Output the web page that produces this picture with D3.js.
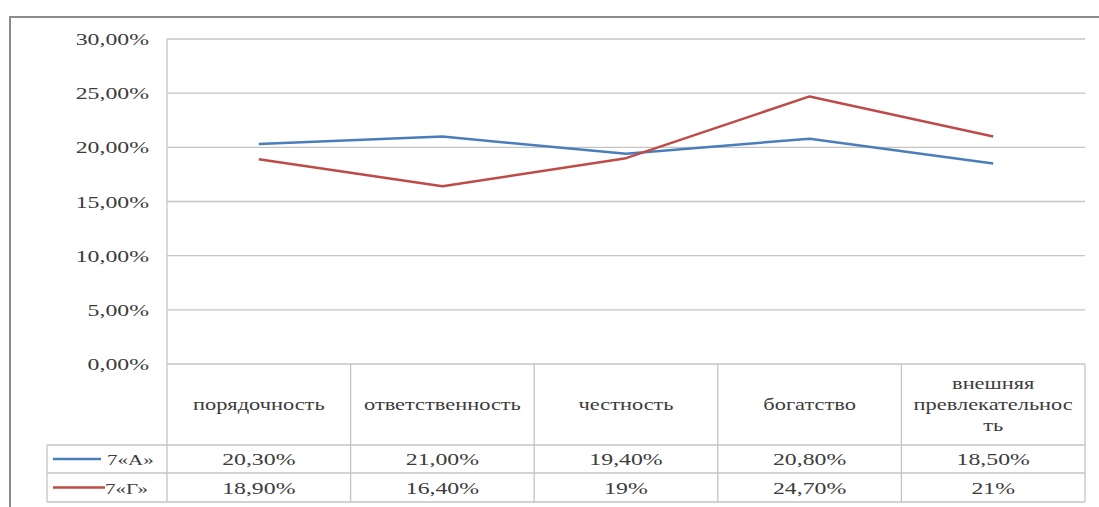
<!DOCTYPE html>
<html><head><meta charset="utf-8">
<script src="https://cdn.jsdelivr.net/npm/d3@7"></script>
<style>body{margin:0;background:#fff}svg{display:block}svg text{font-family:"Liberation Serif","Times New Roman",serif}</style>
</head><body>
<script>
const categories = ["порядочность","ответственность","честность","богатство","внешняя превлекательность"];
const categoryLines = [["порядочность"],["ответственность"],["честность"],["богатство"],["внешняя","превлекательнос","ть"]];
const seriesNames = ["7«А»","7«Г»"];
const seriesA = [0.203,0.210,0.194,0.208,0.185];
const seriesG = [0.189,0.164,0.19,0.247,0.21];
const labelsA = ["20,30%","21,00%","19,40%","20,80%","18,50%"];
const labelsG = ["18,90%","16,40%","19%","24,70%","21%"];
const yTicks = [0,0.05,0.10,0.15,0.20,0.25,0.30];
const colors = ["#4A7EBB","#BE4B48"];

(function(){
const W=1099,H=507;
const svg=d3.select("body").append("svg").attr("width",W).attr("height",H);
const SX=1.4;
const pLeft=167,pRight=1085,pTop=39,pBottom=364;
const x=d3.scaleBand().domain(categories).range([pLeft,pRight]).padding(0);
const y=d3.scaleLinear().domain([0,0.30]).range([pBottom,pTop]);
const fmt=v=>d3.format(".2f")(v*100).replace(".",",")+"%";
const txt=(px,py,s,anchor,size)=>svg.append("text")
  .attr("transform",`translate(${px},${py}) scale(${SX},1)`)
  .attr("text-anchor",anchor).attr("font-size",size)
  .attr("fill","#3c3c3c").text(s);

// outer frame
svg.append("path").attr("d",`M10,${H} L10,17 L${W},17`).attr("fill","none").attr("stroke","#8c8c8c").attr("stroke-width",2);

// gridlines
svg.append("g").selectAll("line").data(yTicks).join("line")
 .attr("x1",pLeft).attr("x2",pRight).attr("y1",d=>y(d)).attr("y2",d=>y(d))
 .attr("stroke","#c4c4c4").attr("stroke-width",1.3);
svg.append("line").attr("x1",pLeft).attr("x2",pLeft).attr("y1",pTop).attr("y2",pBottom).attr("stroke","#c4c4c4").attr("stroke-width",1.3);

// y tick labels
yTicks.forEach(t=>txt(149,y(t)+6,fmt(t),"end",17));

// table
const rowH=[pBottom,445,473,502];
const tg=svg.append("g").attr("stroke","#c4c4c4").attr("stroke-width",1.3);
const cols=categories.map(c=>x(c)).concat([pRight]);
cols.forEach(cx=>{
  tg.append("line").attr("x1",cx).attr("x2",cx).attr("y1",pBottom).attr("y2",rowH[3]);
});
tg.append("line").attr("x1",47).attr("x2",47).attr("y1",rowH[1]).attr("y2",rowH[3]);
[1,2,3].forEach(k=>tg.append("line").attr("x1",47).attr("x2",pRight).attr("y1",rowH[k]).attr("y2",rowH[k]));

// category labels
categories.forEach((c,i)=>{
  const lines=categoryLines[i];
  const cx=x(c)+x.bandwidth()/2;
  const lh=21;
  const y0=(pBottom+rowH[1])/2 - (lines.length-1)*lh/2 + 5;
  lines.forEach((l,j)=>txt(cx,y0+j*lh,l,"middle",16));
});

// data rows
[labelsA,labelsG].forEach((labs,r)=>{
  const ry=(rowH[r+1]+rowH[r+2])/2+6;
  categories.forEach((c,i)=>txt(x(c)+x.bandwidth()/2,ry,labs[i],"middle",17));
  svg.append("line").attr("x1",53).attr("x2",r===0?101:105).attr("y1",ry-6).attr("y2",ry-6).attr("stroke",colors[r]).attr("stroke-width",2.5);
  txt(r===0?107:105,ry,seriesNames[r],"start",15);
});

// lines
const line=d3.line().x((d,i)=>x(categories[i])+x.bandwidth()/2).y(d=>y(d));
[seriesA,seriesG].forEach((s,r)=>{
  svg.append("path").datum(s).attr("d",line).attr("fill","none").attr("stroke",colors[r]).attr("stroke-width",2.5).attr("stroke-linejoin","round");
});
})();
</script>
</body></html>
